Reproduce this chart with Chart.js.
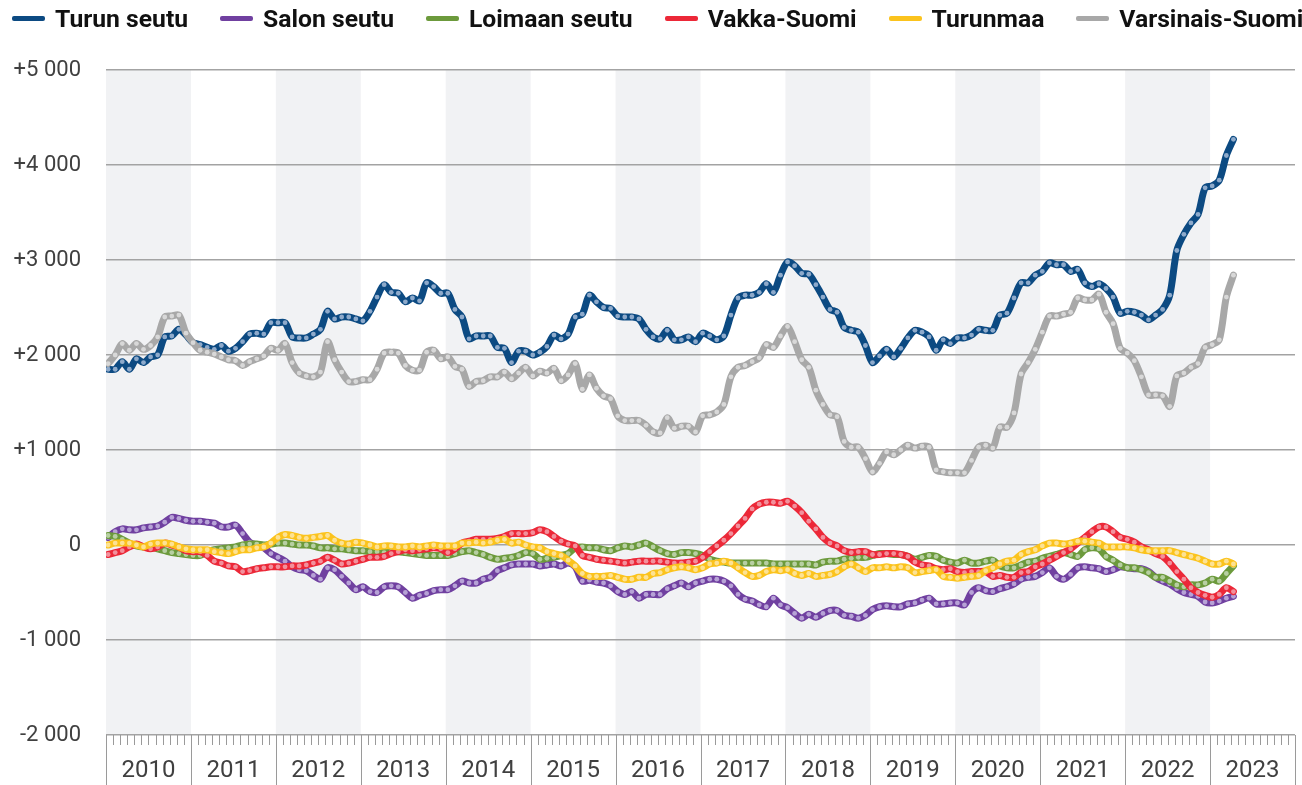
<!DOCTYPE html>
<html lang="fi">
<head>
<meta charset="utf-8">
<title>Varsinais-Suomi</title>
<script src="https://cdn.jsdelivr.net/npm/chart.js@4.4.1/dist/chart.umd.min.js"></script>
<style>
  html, body { margin: 0; background: #fff; }
  #wrap { position: relative; width: 1302px; height: 785px; }
  canvas { position: absolute; left: 0; top: 0; }
  #legend { position: absolute; left: 12px; top: 4px; display: flex; align-items: center; font: bold 24.7px Roboto, sans-serif; color: #111; white-space: nowrap; }
  #legend .item { display: flex; align-items: center; margin-right: 32px; }
  #legend .line { width: 33px; height: 5px; border-radius: 2px; margin-right: 10px; }
</style>
</head>
<body>
<div id="wrap">
  <canvas id="chart" width="1302" height="785"></canvas>
  <div id="legend"></div>
</div>
<script>
// year labels of the time axis, one point per month from Jan 2010
const years = [2010, 2011, 2012, 2013, 2014, 2015, 2016, 2017, 2018, 2019, 2020, 2021, 2022, 2023]

const names = ['Turun seutu', 'Salon seutu', 'Loimaan seutu', 'Vakka-Suomi', 'Turunmaa', 'Varsinais-Suomi']

const turunSeutu = [
  1850, 1850, 1930, 1850, 1960, 1920, 1980, 2000, 2190, 2200, 2270, 2210,
  2130, 2110, 2080, 2060, 2100, 2040, 2070, 2140, 2220, 2230, 2220, 2340,
  2340, 2340, 2190, 2180, 2180, 2220, 2270, 2460, 2380, 2400, 2400, 2380,
  2360, 2460, 2610, 2740, 2660, 2650, 2560, 2600, 2570, 2760, 2720, 2650,
  2650, 2480, 2400, 2170, 2200, 2200, 2200, 2080, 2070, 1920, 2040, 2040,
  2000, 2030, 2090, 2210, 2170, 2220, 2400, 2430, 2630, 2560, 2500, 2490,
  2410, 2400, 2400, 2380, 2270, 2190, 2170, 2260, 2160, 2160, 2190, 2140,
  2230, 2200, 2160, 2200, 2420, 2600, 2630, 2630, 2660, 2750, 2660, 2840,
  2980, 2940, 2860, 2850, 2740, 2610, 2480, 2450, 2290, 2260, 2240, 2100,
  1920, 1990, 2060, 1980, 2070, 2180, 2260, 2240, 2190, 2050, 2160, 2120,
  2180, 2180, 2210, 2270, 2260, 2260, 2420, 2440, 2600, 2760, 2760, 2840,
  2880, 2970, 2950, 2950, 2880, 2900, 2760, 2720, 2750, 2700, 2610, 2440,
  2460, 2450, 2420, 2370, 2420, 2480, 2630, 3100, 3270, 3390, 3480, 3760,
  3780, 3840, 4100, 4270
]

const salonSeutu = [
  80, 140, 170, 160, 160, 180, 190, 200, 240, 290, 280, 260,
  250, 250, 240, 230, 190, 190, 210, 120, 30, 0, -30, -90,
  -130, -170, -230, -260, -270, -320, -360, -240, -260, -330, -400, -470,
  -440, -490, -500, -440, -430, -440, -500, -560, -530, -510, -480, -470,
  -470, -430, -380, -400, -400, -360, -340, -270, -240, -210, -200, -200,
  -200, -220, -210, -200, -220, -190, -230, -380, -370, -390, -400, -430,
  -490, -520, -490, -560, -520, -520, -520, -460, -430, -400, -440, -400,
  -380, -360, -360, -380, -430, -520, -570, -590, -630, -650, -560, -630,
  -660, -720, -770, -730, -760, -720, -690, -690, -740, -750, -770, -740,
  -680, -650, -640, -650, -650, -620, -610, -580, -560, -620, -620, -610,
  -610, -630, -500, -450, -480, -490, -460, -440, -410, -360, -340, -330,
  -290, -240, -330, -360, -310, -240, -230, -240, -250, -280, -260, -230,
  -240, -250, -250, -280, -340, -380, -410, -460, -500, -520, -540, -600,
  -610, -590, -560, -540
]

const loimaanSeutu = [
  100, 90, 60, 20, -10, -20, -20, -40, -60, -80, -90, -100,
  -110, -110, -70, -50, -40, -30, -20, 0, 10, 10, 0, 10,
  20, 20, 10, 0, 0, -10, -30, -30, -40, -40, -50, -60,
  -60, -70, -70, -80, -70, -70, -80, -90, -100, -110, -110, -110,
  -110, -90, -70, -60, -80, -100, -130, -150, -140, -130, -110, -80,
  -90, -150, -140, -130, -110, -90, -30, -20, -30, -30, -50, -60,
  -30, -10, -20, 0, 20, -20, -60, -90, -100, -80, -80, -90,
  -110, -150, -170, -180, -190, -190, -190, -190, -190, -190, -200, -200,
  -200, -200, -200, -200, -210, -180, -170, -170, -150, -140, -130, -130,
  -110, -90, -90, -100, -100, -120, -150, -130, -110, -120, -160, -180,
  -190, -160, -190, -190, -170, -160, -220, -240, -240, -210, -180, -170,
  -140, -120, -100, -80, -100, -120, -50, -30, -40, -120, -160, -210,
  -240, -240, -260, -290, -340, -340, -380, -420, -440, -420, -420, -400,
  -360, -380, -300, -220
]

const vakkaSuomi = [
  -100, -80, -60, -20, 10, -20, -40, -20, 20, 0, -20, -60,
  -70, -70, -110, -170, -190, -220, -230, -280, -270, -250, -240, -230,
  -230, -230, -220, -220, -210, -190, -170, -130, -160, -200, -190, -170,
  -150, -130, -130, -120, -90, -70, -50, -60, -50, -40, -30, -40,
  -80, -40, 20, 40, 60, 60, 60, 70, 90, 120, 120, 120,
  130, 160, 140, 90, 40, 10, -10, -110, -130, -150, -160, -170,
  -180, -190, -180, -170, -170, -170, -170, -180, -190, -190, -180, -170,
  -130, -70, -10, 50, 120, 200, 280, 380, 430, 450, 450, 440,
  460, 410, 340, 250, 170, 80, 20, -10, -60, -80, -70, -70,
  -100, -100, -90, -90, -100, -120, -180, -210, -220, -250, -260, -250,
  -280, -290, -280, -280, -280, -330, -320, -340, -340, -290, -280, -230,
  -200, -160, -120, -80, -40, 20, 80, 140, 190, 190, 140, 80,
  60, 30, -20, -50, -90, -120, -190, -280, -360, -450, -500, -530,
  -550, -520, -450, -490
]

const turunmaa = [
  0, 20, 20, 20, 0, -20, 10, 20, 20, 10, -20, -40,
  -50, -50, -50, -70, -80, -90, -70, -50, -50, -30, -20, 20,
  80, 110, 100, 80, 70, 80, 90, 100, 50, 20, 10, 30,
  20, 0, -20, -10, -10, -20, -20, -10, -20, -10, 0, -10,
  -10, -10, 20, 20, 30, 20, 30, 50, 60, 20, 30, 0,
  -20, -30, -70, -90, -110, -160, -220, -300, -330, -330, -330, -320,
  -340, -360, -360, -340, -340, -300, -290, -260, -240, -230, -240, -260,
  -240, -200, -190, -170, -190, -240, -290, -330, -320, -280, -260, -270,
  -260, -300, -320, -300, -330, -320, -310, -280, -230, -200, -240, -280,
  -240, -240, -230, -240, -230, -240, -290, -280, -270, -260, -330, -340,
  -350, -340, -330, -320, -270, -240, -200, -170, -160, -100, -70, -50,
  -10, 20, 20, 10, 20, 40, 40, 30, 20, -20, -20, -20,
  -20, -30, -50, -60, -60, -60, -60, -80, -100, -120, -140, -170,
  -200, -200, -170, -200
]

const varsinaisSuomi = [
  1910, 2000, 2120, 2050, 2120, 2060, 2100, 2190, 2400, 2410, 2420, 2230,
  2130, 2050, 2030, 2010, 1980, 1950, 1940, 1890, 1930, 1960, 1990, 2070,
  2050, 2120, 1920, 1810, 1780, 1770, 1820, 2140, 1950, 1820, 1720, 1720,
  1740, 1740, 1850, 2020, 2030, 2020, 1890, 1840, 1840, 2030, 2050, 1960,
  1980, 1880, 1850, 1670, 1720, 1730, 1770, 1770, 1820, 1750, 1810, 1870,
  1780, 1830, 1810, 1860, 1730, 1790, 1910, 1640, 1790, 1650, 1570, 1540,
  1360, 1310, 1310, 1310, 1260, 1190, 1180, 1340, 1230, 1250, 1250, 1190,
  1360, 1370, 1400, 1480, 1770, 1870, 1890, 1930, 1970, 2110, 2080, 2200,
  2300, 2140, 1950, 1870, 1630, 1480, 1370, 1350, 1090, 1030, 1030, 910,
  770, 860, 980, 950, 1000, 1050, 1020, 1040, 1030, 790, 770, 760,
  760, 760, 890, 1030, 1050, 1020, 1240, 1240, 1390, 1800, 1920, 2060,
  2240, 2410, 2410, 2430, 2450, 2600, 2580, 2580, 2640, 2450, 2330, 2070,
  2020, 1940, 1770, 1580, 1580, 1570, 1460, 1780, 1810, 1870, 1910, 2080,
  2110, 2160, 2610, 2840
]

const series = [turunSeutu, salonSeutu, loimaanSeutu, vakkaSuomi, turunmaa, varsinaisSuomi]
const lineColors = ['#0c4a82', '#7040a0', '#6c9a3c', '#ec2838', '#fbc31d', '#a8a8a8']
const dotColors = ['#8eaacb', '#b7a2d6', '#b7cfa2', '#f2909c', '#fde293', '#d8d8d8']

// month points sit a bit right of the year boundary
const OFF = 0.3

const fmt = v => {
  const a = Math.abs(v)
  const s = a >= 1000 ? Math.floor(a / 1000) + ' ' + String(a % 1000).padStart(3, '0') : String(a)
  return (v > 0 ? '+' : v < 0 ? '-' : '') + s
}

// legend
const legend = document.getElementById('legend')
names.forEach((name, i) => {
  let item = document.createElement('div')
  item.className = 'item'
  let line = document.createElement('span')
  line.className = 'line'
  line.style.background = lineColors[i]
  let label = document.createElement('span')
  label.textContent = name
  item.append(line, label)
  legend.append(item)
})

const bands = {
  id: 'bands',
  beforeDraw(chart) {
    const {ctx, chartArea: a, scales: {x}} = chart
    ctx.save()
    ctx.fillStyle = '#f1f2f4'
    years.forEach((yr, k) => {
      if (k % 2) return
      const x0 = x.getPixelForValue(k * 12 - OFF)
      const x1 = x.getPixelForValue(k * 12 + 12 - OFF)
      ctx.fillRect(x0, a.top, x1 - x0, a.bottom - a.top)
    })
    ctx.restore()
  }
}

const timeAxis = {
  id: 'timeAxis',
  afterDraw(chart) {
    const {ctx, chartArea: a, scales: {x}} = chart
    ctx.save()
    ctx.strokeStyle = '#9a9a9a'
    ctx.lineWidth = 1
    for (let m = 0; m <= years.length * 12; m++) {
      const px = Math.round(x.getPixelForValue(m - OFF)) + 0.5
      ctx.beginPath()
      ctx.moveTo(px, a.bottom)
      ctx.lineTo(px, m % 12 ? a.bottom + 10 : chart.height)
      ctx.stroke()
    }
    ctx.fillStyle = '#404040'
    ctx.font = '24px Roboto'
    ctx.textAlign = 'center'
    ctx.textBaseline = 'middle'
    years.forEach((yr, k) => ctx.fillText(String(yr), x.getPixelForValue(k * 12 + 6 - OFF), a.bottom + 36))
    ctx.restore()
  }
}

const data = {
  datasets: series.map((values, i) => ({
    label: names[i],
    data: values.map((v, m) => ({x: m, y: v})),
    borderColor: lineColors[i],
    backgroundColor: lineColors[i],
    pointBackgroundColor: dotColors[i],
    order: series.length - i
  }))
}

const config = {
  type: 'line',
  data: data,
  options: {
    responsive: false,
    devicePixelRatio: 1,
    animation: false,
    events: [],
    layout: { padding: { top: 70, right: 7, bottom: 50, left: 0 } },
    elements: {
      line: { borderWidth: 7, tension: 0.3, borderCapStyle: 'round', borderJoinStyle: 'round' },
      point: { radius: 2.4, borderWidth: 0, hoverRadius: 2.4 }
    },
    plugins: { legend: { display: false }, tooltip: { enabled: false } },
    scales: {
      x: { type: 'linear', min: -OFF, max: years.length * 12 - OFF, display: false },
      y: {
        min: -2000,
        max: 5000,
        afterFit(s) { s.width = 106 },
        grid: { color: '#a3a3a3', lineWidth: 1.5, drawTicks: false },
        border: { display: false },
        ticks: {
          stepSize: 1000,
          padding: 25,
          color: '#404040',
          font: { family: 'Roboto', size: 22 },
          callback: v => fmt(v)
        }
      }
    }
  },
  plugins: [bands, timeAxis]
}

const chart = new Chart(document.getElementById('chart'), config)
</script>
</body>
</html>
